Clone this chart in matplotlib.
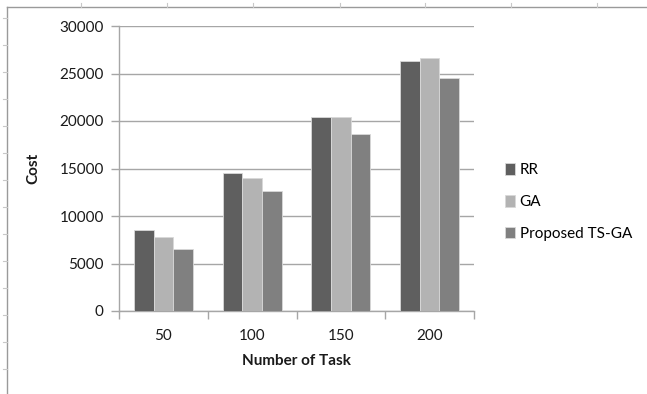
import matplotlib
matplotlib.use("Agg")
import matplotlib.pyplot as plt
from matplotlib.lines import Line2D
from matplotlib.patches import Patch
import numpy as np

categories = ["50", "100", "150", "200"]
series_names = ["RR", "GA", "Proposed TS-GA"]
rr = [8500, 14500, 20400, 26350]
ga = [7800, 14000, 20400, 26650]
ts_ga = [6500, 12600, 18600, 24500]
y_ticks = [0, 5000, 10000, 15000, 20000, 25000, 30000]

colors = ["#5f5f5f", "#b3b3b3", "#808080"]
grid_c = "#a6a6a6"
txt_c = "#1a1a1a"
fs = 11

plt.rcParams["font.family"] = ["Lato", "DejaVu Sans"]

W, H = 647, 394
fig = plt.figure(figsize=(W / 100, H / 100), dpi=100)

# sheet border with row/column markers
fig.add_artist(Line2D([7 / W, 7 / W], [0, 1 - 7 / H], color="#9a9a9a", lw=1.0))
fig.add_artist(Line2D([7 / W, 1], [1 - 7 / H, 1 - 7 / H], color="#9a9a9a", lw=1.0))
for x in [81, 167, 253, 340, 425, 511, 597]:
    fig.add_artist(Line2D([x / W, x / W], [1 - 7 / H, 1 - 3 / H], color="#c8c8c8", lw=0.8))
for y in range(18, 394, 27):
    fig.add_artist(Line2D([3 / W, 7 / W], [1 - y / H, 1 - y / H], color="#c8c8c8", lw=0.8))

ax_l, ax_r, ax_t, ax_b = 119, 474, 26, 311
ax = fig.add_axes([ax_l / W, 1 - ax_b / H, (ax_r - ax_l) / W, (ax_b - ax_t) / H])

x = np.arange(len(categories))
bw = 1 / 4.5
data = [rr, ga, ts_ga]
for i, (vals, c) in enumerate(zip(data, colors)):
    ax.bar(x + (i - 1) * bw, vals, width=bw, color=c, edgecolor="#d9d9d9",
           linewidth=0.6, zorder=3, label=series_names[i])

ax.set_xlim(-0.5, len(categories) - 0.5)
ax.set_ylim(0, 30000)
ax.set_yticks(y_ticks)
ax.set_yticklabels([str(v) for v in y_ticks], fontsize=fs, color=txt_c)
ax.yaxis.grid(True, color=grid_c, lw=1.0, zorder=0)
ax.set_xticks(x)
ax.set_xticklabels(categories, fontsize=fs, color=txt_c)
ax.tick_params(axis="x", length=0, pad=13)
ax.tick_params(axis="y", length=6, color=grid_c, width=1.0, pad=5)
ax.set_xticks(np.arange(-0.5, len(categories)), minor=True)
ax.tick_params(axis="x", which="minor", length=6, color=grid_c, width=1.0)

for s in ["top", "right"]:
    ax.spines[s].set_visible(False)
for s in ["left", "bottom"]:
    ax.spines[s].set_color(grid_c)
    ax.spines[s].set_linewidth(1.0)

ax.set_xlabel("Number of Task", fontsize=fs, fontweight="bold", labelpad=8, color=txt_c)
ax.set_ylabel("Cost", fontsize=fs, fontweight="bold", color=txt_c)
ax.yaxis.set_label_coords(-(ax_l - 40) / (ax_r - ax_l), 0.5)

handles = [Patch(facecolor=c, edgecolor="#d9d9d9", linewidth=0.6) for c in colors]
fig.legend(handles, series_names, loc="upper left",
           bbox_to_anchor=(499 / W, 1 - 157 / H), frameon=False, fontsize=fs,
           handlelength=0.65, handleheight=0.8, handletextpad=0.3, labelspacing=1.15,
           borderaxespad=0)

fig.savefig("out.png", dpi=100)
